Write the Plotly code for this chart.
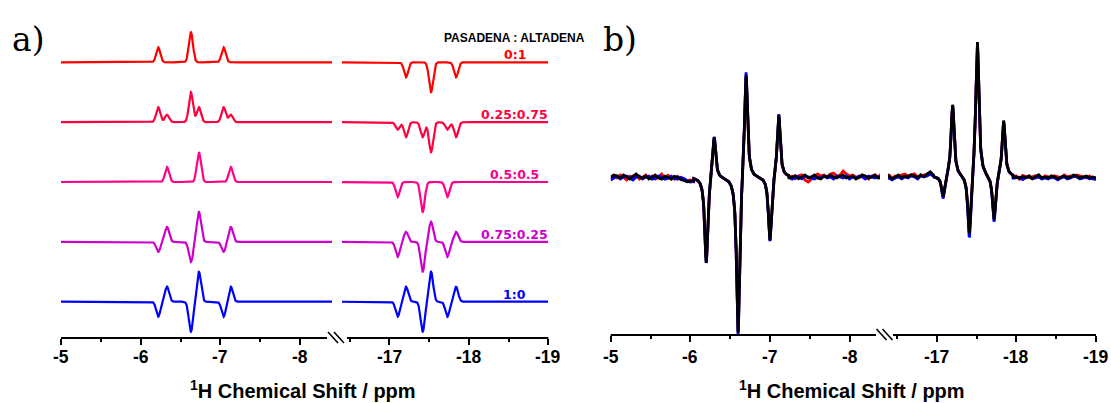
import numpy as np
import plotly.graph_objects as go

W, H = 1111, 403

# ---------------- panel a: simulated hydride spectra ----------------
ratio_labels = ["0:1", "0.25:0.75", "0.5:0.5", "0.75:0.25", "1:0"]
row_colors = ["#FF0000", "#FF0040", "#FF0088", "#CC00CC", "#0000FF"]
row_offsets = [8.0, 6.0, 4.0, 2.0, 0.0]

# line positions (ppm) of the two hydride multiplets
a_left_net_ppm = [-6.22, -6.63, -7.04]
a_left_anti_ppm = [-6.33, -6.73, -7.13]
a_right_net_ppm = [-17.21, -17.525, -17.84]
a_right_anti_ppm = [-17.105, -17.42, -17.73]
triplet_weights = [0.5, 1.0, 0.5]

# per-ratio weights of each line set
coef_left_net = [1.0, 1.0, 0.0, -0.67, -1.0]
coef_left_anti = [0.0, 0.5, 1.0, 1.0, 1.0]
coef_right_net = [-1.0, -1.0, 0.0, 0.67, 1.0]
coef_right_anti = [0.0, -0.5, -1.0, -1.0, -1.0]
a_sigma = 0.026  # gaussian width, ppm

# ---------------- panel b: measured spectra ----------------
b_left_ppm = [-6.20, -6.30, -6.60, -6.70, -7.00, -7.11]
b_right_ppm = [-17.08, -17.20, -17.41, -17.51, -17.72, -17.84]
b_hwhm = 0.023  # lorentzian half width, ppm

b_left_amp_red = [-86, 44, -159, 108, -65, 64]
b_right_amp_red = [-22, 71, -62, 136, -45, 57]
b_left_amp_blue = [-88, 45, -163, 113, -67, 66]
b_right_amp_blue = [-24, 72, -68, 137, -48, 56]
b_left_amp_black = [-87.5, 44.5, -161, 110, -66, 65]
b_right_amp_black = [-22, 73, -64, 139, -46, 57.5]

# baseline noise (a.u.) on the 0.04 ppm baseline grid:
# left = [-5.00 .. -6.04] + [-7.24 .. -8.40], right = [-16.36 .. -16.96] + [-17.96 .. -19.00]
b_base_red_left = [-2, 1, -1, 2, 0, -3, 1, 0, 2, -2, 0, 2, -1, 1, -2, 0, 3, -1, 2, 0, -2, 1, -1, -2, -3, -2, -3,
                   -1, 0, -2, 1, 2, -3, -5, -2, 1, 3, 1, 2, 0, 3, 4, 1, 2, 6, 3, 1, 2, 0, -1, 2, 0, -2, 1, 2, 0, 3]
b_base_red_right = [1, 2, -1, 1, 0, 2, 3, 1, 2, 3, 0, 1, 2, 2, 4, 1,
                    -1, 0, -3, 1, 0, -1, 0, 1, 0, -2, 1, 0, -1, 1, 0, -1, 2, 0, 1, 0, 2, 1, 0, -1, 1, -2, -1]
b_base_blue_left = [-3, -1, 1, -2, 0, 1, -1, -3, 0, 1, -2, 0, 1, -2, -1, 1, 0, -2, -1, 1, -1, -2, 0, -1, -3, -4, -3,
                    -2, -3, -1, 0, -2, 1, 0, -1, -2, 0, -1, 1, -1, 0, -2, 1, 0, -1, 1, -2, 0, -1, 1, 0, -2, 1, 0, -1, 0, -2]
b_base_blue_right = [-2, -1, -3, -1, 0, -2, 0, -1, 1, 0, -2, 1, 0, 1, 3, 0,
                     -3, -2, -1, -3, -1, 0, -2, -1, 0, -2, -1, -2, 0, -1, -3, -1, 0, -2, -1, 1, 0, -2, -1, 0, -2, -1, -3]
b_base_black_left = [0, 2, 1, -1, 2, 0, -2, 1, 3, 0, -1, 1, -2, 0, 2, -1, -2, 1, 0, -2, 1, 0, -2, -3, -4, -3, -2,
                     -2, -1, 1, -2, 0, 2, -1, 0, 2, -1, -2, 1, 0, 2, 0, -1, 1, 2, -1, 0, 1, -2, 0, 2, 1, -1, 0, 2, -1, 1]
b_base_black_right = [-1, 1, -2, 0, 2, -1, 1, 0, 2, 1, -1, 2, 0, 3, 5, 2,
                      -2, -1, -2, 0, -1, 1, -2, 0, 2, -1, 0, -1, 1, 0, -2, 0, 1, -1, 0, 2, 1, -1, 0, 1, -1, 0, -1]

# axis ticks (ppm)
left_major = [-5, -6, -7, -8]
left_minor = [-5.5, -6.5, -7.5]
right_major = [-17, -18, -19]
right_minor = [-16.5, -17.5, -18.5]


# ---------------- helpers ----------------
def gauss(x, centers, amps, sigma):
    y = np.zeros_like(x)
    for c, a in zip(centers, amps):
        y += a * np.exp(-0.5 * ((x - c) / sigma) ** 2)
    return y


def lorentz(x, centers, amps, hwhm):
    y = np.zeros_like(x)
    for c, a in zip(centers, amps):
        y += a * hwhm ** 2 / (hwhm ** 2 + (x - c) ** 2)
    return y


def px_x(p):
    return p / W


def px_y(p):
    return 1 - p / H


# ---------------- layout geometry (pixels) ----------------
# panel a
a_left_px = (61.0, 332.0)
a_right_px = (342.0, 548.3)
a_left_range = [-5.0, -5.0 - (a_left_px[1] - a_left_px[0]) / 79.7]
a_right_range = [-17.0 + (389.3 - a_right_px[0]) / 79.5, -19.0]
a_axis_py = 338.0
a_unit_px = 29.925
a_base_py = 301.7
a_yrange = [-(a_axis_py - a_base_py) / a_unit_px, a_base_py / a_unit_px]

# panel b
b_left_px = (610.7, 880.0)
b_right_px = (888.0, 1096.0)
b_left_range = [-5.0, -5.0 - (b_left_px[1] - b_left_px[0]) / 79.6]
b_right_range = [-17.0 + (936.7 - b_right_px[0]) / 79.7, -19.0]
b_axis_py = 335.0
b_base_py = 177.0
b_yrange = [-(b_axis_py - b_base_py), b_base_py]

fig = go.Figure()

# ---------------- panel a traces ----------------
xa_left = np.linspace(-5.0, -8.45, 1400)
xa_right = np.linspace(-16.35, -19.0, 1100)
for i, lab in enumerate(ratio_labels):
    yl = (gauss(xa_left, a_left_net_ppm, [w * coef_left_net[i] for w in triplet_weights], a_sigma)
          + gauss(xa_left, a_left_anti_ppm, [w * coef_left_anti[i] for w in triplet_weights], a_sigma)
          + row_offsets[i])
    yr = (gauss(xa_right, a_right_net_ppm, [w * coef_right_net[i] for w in triplet_weights], a_sigma)
          + gauss(xa_right, a_right_anti_ppm, [w * coef_right_anti[i] for w in triplet_weights], a_sigma)
          + row_offsets[i])
    line = dict(color=row_colors[i], width=2.2)
    fig.add_trace(go.Scatter(x=xa_left, y=yl, mode="lines", line=line, xaxis="x", yaxis="y",
                             showlegend=False, hoverinfo="skip"))
    fig.add_trace(go.Scatter(x=xa_right, y=yr, mode="lines", line=line, xaxis="x2", yaxis="y",
                             showlegend=False, hoverinfo="skip"))
    fig.add_annotation(x=-18.58, y=row_offsets[i] + 7.5 / a_unit_px, xref="x2", yref="y",
                       text="<b>" + lab + "</b>", showarrow=False, xanchor="center", yanchor="middle",
                       font=dict(family="DejaVu Sans", size=12.5, color=row_colors[i]))

# ---------------- panel b traces ----------------
step = 0.04
bl_c1 = np.round(-5.0 - step * np.arange(27), 3)
bl_c2 = np.round(-7.24 - step * np.arange(30), 3)
bl_f = np.linspace(-6.044, -7.236, 299)
br_c1 = np.round(-16.36 - step * np.arange(16), 3)
br_c2 = np.round(-17.96 - step * np.arange(27), 3)
br_f = np.linspace(-16.964, -17.956, 249)

xb_left = np.concatenate([bl_c1, bl_f, bl_c2])
xb_right = np.concatenate([br_c1, br_f, br_c2])

b_traces = [
    ("#FF0000", b_left_amp_red, b_right_amp_red, b_base_red_left, b_base_red_right),
    ("#0000FF", b_left_amp_blue, b_right_amp_blue, b_base_blue_left, b_base_blue_right),
    ("#000000", b_left_amp_black, b_right_amp_black, b_base_black_left, b_base_black_right),
]
for color, amp_l, amp_r, base_l, base_r in b_traces:
    nl = np.concatenate([base_l[:27], np.zeros(len(bl_f)), base_l[27:]])
    nr = np.concatenate([base_r[:16], np.zeros(len(br_f)), base_r[16:]])
    yl = lorentz(xb_left, b_left_ppm, amp_l, b_hwhm) + nl
    yr = lorentz(xb_right, b_right_ppm, amp_r, b_hwhm) + nr
    line = dict(color=color, width=2.8)
    fig.add_trace(go.Scatter(x=xb_left, y=yl, mode="lines", line=line, xaxis="x3", yaxis="y2",
                             showlegend=False, hoverinfo="skip"))
    fig.add_trace(go.Scatter(x=xb_right, y=yr, mode="lines", line=line, xaxis="x4", yaxis="y2",
                             showlegend=False, hoverinfo="skip"))


# ---------------- axes ----------------
def xaxis_cfg(dom_px, rng, major, minor, anchor):
    return dict(
        domain=[px_x(dom_px[0]), px_x(dom_px[1])], range=rng, anchor=anchor,
        showgrid=False, zeroline=False, showline=False, automargin=False,
        tickmode="array", tickvals=major, showticklabels=False,
        ticks="outside", ticklen=6, tickwidth=2, tickcolor="black",
        minor=dict(tickmode="array", tickvals=minor, ticks="outside", ticklen=3,
                   tickwidth=2, tickcolor="black", showgrid=False),
        fixedrange=True,
    )


fig.update_layout(
    xaxis=xaxis_cfg(a_left_px, a_left_range, left_major, left_minor, "y"),
    xaxis2=xaxis_cfg(a_right_px, a_right_range, right_major, right_minor, "y"),
    xaxis3=xaxis_cfg(b_left_px, b_left_range, left_major, left_minor, "y2"),
    xaxis4=xaxis_cfg(b_right_px, b_right_range, right_major, right_minor, "y2"),
    yaxis=dict(domain=[px_y(a_axis_py), 1.0], range=a_yrange, visible=False, anchor="x",
               fixedrange=True, automargin=False),
    yaxis2=dict(domain=[px_y(b_axis_py), 1.0], range=b_yrange, visible=False, anchor="x3",
                fixedrange=True, automargin=False),
)

# bold tick labels placed at the tick values of each axis segment
tick_font = dict(family="Liberation Sans, Arial", size=17.5, color="black")
for xref, vals in [("x", left_major), ("x2", right_major), ("x3", left_major), ("x4", right_major)]:
    for v in vals:
        fig.add_annotation(x=v, y=px_y(357), xref=xref, yref="paper", text="<b>%d</b>" % v,
                           showarrow=False, xanchor="center", yanchor="middle", font=tick_font)

# axis lines with break marks
shapes = []
axis_line = dict(color="black", width=2)
for (x0, x1), py in [((61.0, 327.0), a_axis_py), ((347.0, 548.3), a_axis_py),
                     ((610.7, 876.0), b_axis_py), ((893.0, 1096.0), b_axis_py)]:
    shapes.append(dict(type="line", xref="paper", yref="paper", x0=px_x(x0), x1=px_x(x1),
                       y0=px_y(py), y1=px_y(py), line=axis_line, layer="above"))
for bx, py in [(328.0, a_axis_py), (334.0, a_axis_py), (876.5, b_axis_py), (882.5, b_axis_py)]:
    shapes.append(dict(type="line", xref="paper", yref="paper", x0=px_x(bx), x1=px_x(bx + 10),
                       y0=px_y(py - 6), y1=px_y(py + 5), line=dict(color="black", width=1.6),
                       layer="above"))
fig.update_layout(shapes=shapes)

# ---------------- text ----------------
title_font = dict(family="Liberation Sans, Arial", size=20, color="black")
for cx in (303.4, 851.5):
    fig.add_annotation(x=px_x(cx), y=px_y(389), xref="paper", yref="paper",
                       text="<b><sup>1</sup>H Chemical Shift / ppm</b>", showarrow=False,
                       xanchor="center", yanchor="middle", font=title_font)

panel_font = dict(family="DejaVu Serif", size=33, color="black")
fig.add_annotation(x=px_x(28), y=px_y(39), xref="paper", yref="paper", text="a)",
                   showarrow=False, xanchor="center", yanchor="middle", font=panel_font)
fig.add_annotation(x=px_x(620), y=px_y(39), xref="paper", yref="paper", text="b)",
                   showarrow=False, xanchor="center", yanchor="middle", font=panel_font)

fig.add_annotation(x=px_x(514), y=px_y(38.3), xref="paper", yref="paper",
                   text="<b>PASADENA : ALTADENA</b>", showarrow=False, xanchor="center", yanchor="middle",
                   font=dict(family="Liberation Sans, Arial", size=12, color="black"))

fig.update_layout(
    width=W, height=H, autosize=False,
    margin=dict(l=0, r=0, t=0, b=0, pad=0, autoexpand=False),
    paper_bgcolor="white", plot_bgcolor="white",
    showlegend=False,
)

fig.write_html("out.html")
